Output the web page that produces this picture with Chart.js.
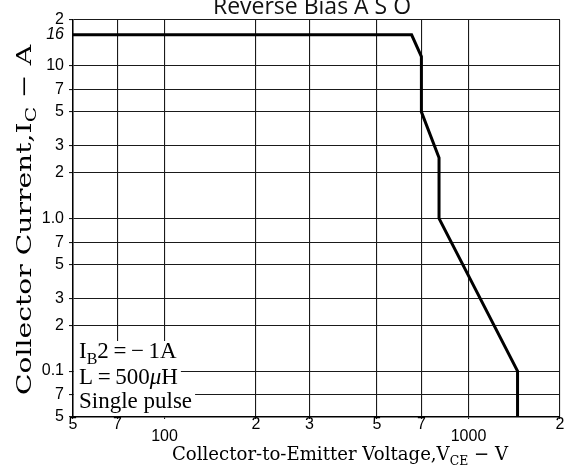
<!DOCTYPE html>
<html>
<head>
<meta charset="utf-8">
<script src="https://cdn.jsdelivr.net/npm/chart.js@4.4.1/dist/chart.umd.min.js"></script>
<style>
  html, body { margin: 0; padding: 0; background: #fff; }
  #wrap { width: 574px; height: 474px; position: relative; }
</style>
</head>
<body>
<div id="wrap"><canvas id="c" width="574" height="474"></canvas></div>
<script>
// ---- data ----
const voltage = [50, 650, 700, 700, 800, 800, 1450, 1450];      // V_CE (V)
const current = [16, 16, 11.5, 5, 2.5, 1.0, 0.1, 0.05];          // I_C (A)

const xTickValues = [50, 70, 100, 200, 300, 500, 700, 1000, 2000];
const xTickLabels = ['5', '7', ['', '100'], '2', '3', '5', '7', ['', '1000'], '2'];
const yTickValues = [20, 16, 10, 7, 5, 3, 2, 1, 0.7, 0.5, 0.3, 0.2, 0.1, 0.07, 0.05];
const yTickLabels = ['2', '16', '10', '7', '5', '3', '2', '1.0', '7', '5', '3', '2', '0.1', '7', '5'];

const titleText = 'Reverse Bias A S O';
const xTitle = [{t: 'Collector-to-Emitter Voltage,V'}, {t: 'CE', sub: true}, {t: ' \u2212 V'}];
const yTitle = [{t: 'Collector Current,I'}, {t: 'C', sub: true}, {t: ' \u2212 A'}];
const noteLines = [
  [{t: 'I'}, {t: 'B', sub: true}, {t: '2\u2009=\u2009\u2212\u20091A'}],
  [{t: 'L\u2009=\u2009500'}, {t: '\u03bc', it: true}, {t: 'H'}],
  [{t: 'Single pulse'}]
];

const points = voltage.map((v, i) => ({x: v, y: current[i]}));

const SERIF = '"Liberation Serif", "DejaVu Serif", serif';
const WSERIF = '"DejaVu Serif", "Liberation Serif", serif';
const SANS = '"Liberation Sans", Arial, sans-serif';

function segWidth(ctx, segs, size, fam) {
  let w = 0;
  for (const s of segs) {
    ctx.font = (s.it ? 'italic ' : '') + (s.sub ? Math.round(size * 0.7) : size) + 'px ' + (fam || SERIF);
    w += ctx.measureText(s.t).width;
  }
  return w;
}
function drawSegs(ctx, segs, x, y, size, fam) {
  let cx = x;
  ctx.textBaseline = 'alphabetic';
  ctx.textAlign = 'left';
  for (const s of segs) {
    const fs = s.sub ? Math.round(size * 0.7) : size;
    ctx.font = (s.it ? 'italic ' : '') + fs + 'px ' + (fam || SERIF);
    ctx.fillText(s.t, cx, y + (s.sub ? size * 0.25 : 0));
    cx += ctx.measureText(s.t).width;
  }
  return cx;
}

const decor = {
  id: 'decor',
  beforeDatasetsDraw(chart) {
    const ctx = chart.ctx, a = chart.chartArea;
    ctx.save();
    // annotation block (white background hides grid behind the text)
    const size = 23;
    const x0 = a.left + 6;
    const baselines = [a.bottom - 59, a.bottom - 33, a.bottom - 9];
    const tops = [a.bottom - 76, a.bottom - 54, a.bottom - 30];
    ctx.fillStyle = '#fff';
    noteLines.forEach((segs, i) => {
      const w = segWidth(ctx, segs, size);
      const top = tops[i];
      const bot = i < noteLines.length - 1 ? tops[i + 1] : a.bottom - 1;
      ctx.fillRect(a.left + 1, top, x0 - a.left + w + 2, bot - top);
    });
    ctx.fillStyle = '#000';
    noteLines.forEach((segs, i) => drawSegs(ctx, segs, x0, baselines[i], size));
    ctx.restore();
  },
  afterDraw(chart) {
    const ctx = chart.ctx, a = chart.chartArea;
    ctx.save();
    ctx.fillStyle = '#111';
    // title (clipped at top in the reference)
    ctx.font = '23px "Open Sans", "Noto Sans", sans-serif';
    ctx.textAlign = 'center';
    ctx.textBaseline = 'alphabetic';
    ctx.fillText(titleText, 312, 14);
    // x title
    const xs = 19;
    const xw = segWidth(ctx, xTitle, xs, WSERIF);
    ctx.fillStyle = '#000';
    ctx.save();
    ctx.translate(340, 460);
    ctx.scale(336 / xw, 1);
    drawSegs(ctx, xTitle, -xw / 2, 0, xs, WSERIF);
    ctx.restore();
    // y title
    const ys = 21;
    const yw = segWidth(ctx, yTitle, ys, WSERIF);
    ctx.translate(31, 220);
    ctx.rotate(-Math.PI / 2);
    ctx.scale(350 / yw, 1);
    drawSegs(ctx, yTitle, -yw / 2, 0, ys, WSERIF);
    ctx.restore();
  }
};

new Chart(document.getElementById('c'), {
  type: 'scatter',
  data: {
    datasets: [{
      data: points,
      showLine: true,
      borderColor: '#000',
      borderWidth: 3,
      pointRadius: 0,
      tension: 0,
      fill: false
    }]
  },
  options: {
    responsive: false,
    animation: false,
    devicePixelRatio: 1,
    layout: { padding: { left: 0, right: 14, top: 20, bottom: 0 } },
    plugins: { legend: { display: false }, tooltip: { enabled: false }, title: { display: false } },
    scales: {
      x: {
        type: 'logarithmic',
        min: 50, max: 2000,
        afterBuildTicks: s => { s.ticks = xTickValues.map(v => ({value: v})); },
        afterFit: s => { s.height = 57; },
        border: { display: true, color: '#000', width: 1.5 },
        grid: { color: '#1a1a1a', lineWidth: 1.1, drawTicks: true, tickLength: 2 },
        ticks: {
          autoSkip: false, maxRotation: 0, minRotation: 0, padding: 0,
          color: '#000',
          font: { family: SANS, size: 16, lineHeight: 0.75 },
          callback: (v, i) => xTickLabels[i]
        }
      },
      y: {
        type: 'logarithmic',
        min: 0.05, max: 20,
        afterBuildTicks: s => { s.ticks = yTickValues.map(v => ({value: v})); },
        afterFit: s => { s.width = 73; },
        border: { display: true, color: '#000', width: 1.5 },
        grid: {
          color: c => (c.tick && c.tick.value === 16) ? 'rgba(0,0,0,0)' : '#1a1a1a',
          lineWidth: 1.1, drawTicks: true, tickLength: 4
        },
        ticks: {
          autoSkip: false, padding: 5, color: '#000',
          font: c => (c.tick && c.tick.value === 16)
            ? { family: SANS, size: 16, style: 'italic' }
            : { family: SANS, size: 16 },
          callback: (v, i) => yTickLabels[i]
        }
      }
    }
  },
  plugins: [decor]
});
</script>
</body>
</html>
